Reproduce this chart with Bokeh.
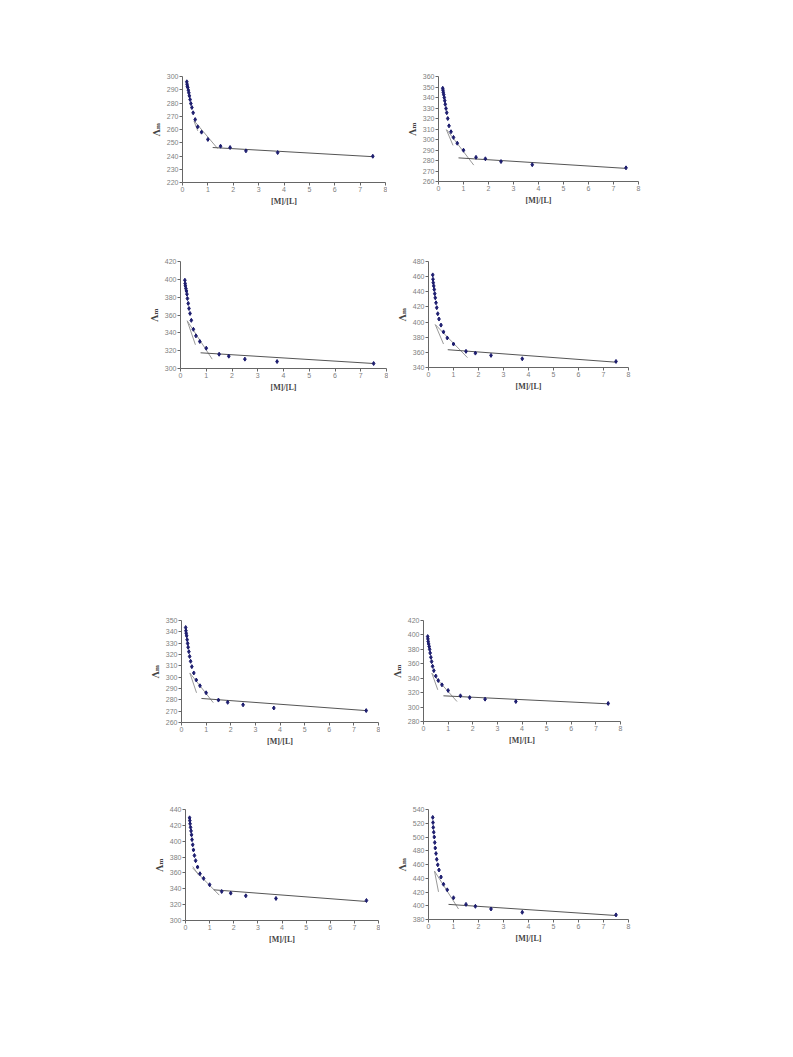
from bokeh.plotting import figure
from bokeh.layouts import row, column, Spacer
from bokeh.models import FixedTicker, Range1d
from bokeh.embed import file_html
from bokeh.resources import INLINE

# [M]/[L] mole ratio (shared by all panels)
x_ratio = [0.17, 0.18, 0.19, 0.21, 0.23, 0.25, 0.27, 0.30, 0.33, 0.37, 0.42,
           0.50, 0.60, 0.75, 1.00, 1.50, 1.875, 2.50, 3.75, 7.50]

# molar conductance values per panel
lam_1 = [296, 294.2, 292.7, 291.7, 289.7, 287.7, 285.4, 282.6, 279.6, 276.6, 272.6,
         267.5, 262, 258, 252.5, 247.4, 246.4, 243.9, 242.6, 239.8]
lam_2 = [348.8, 347, 345, 342.7, 340, 337, 333.5, 329.5, 325.5, 320, 313,
         307.4, 302, 296.5, 289.8, 283, 281.6, 279, 276, 273]
lam_3 = [399, 395.3, 392.7, 389.7, 387, 383.4, 378.5, 373, 367.3, 361.7, 354,
         344, 336.6, 330.3, 322.8, 316, 313.8, 310.5, 307.8, 305.6]
lam_4 = [462.3, 456.5, 452, 447.7, 443, 437.5, 432, 425.5, 419, 411, 404,
         396, 387, 379, 371, 361.3, 359, 356, 351.5, 348]
lam_5 = [343.8, 341, 338.8, 336.5, 333.1, 329.8, 326.4, 322.5, 318.3, 314, 309.3,
         303.7, 297.5, 292.4, 286.2, 279.8, 277.8, 275.6, 272.8, 270.5]
lam_6 = [397.7, 394.5, 391, 387.5, 384, 380, 375, 369, 363, 356.5, 350.5,
         343, 336.8, 330.8, 323, 315.6, 313.2, 311, 307.7, 305]
lam_7 = [429.5, 426, 422, 417.5, 413, 408, 402, 395.5, 389, 382, 375.5,
         367.4, 359, 353.1, 345.1, 336.6, 334.5, 331.1, 327.8, 325.2]
lam_8 = [528.5, 521, 514, 507, 500, 492, 484, 476, 467.5, 459.5, 452,
         441.8, 431.3, 423.1, 411.6, 402, 399.2, 395.3, 390.5, 386.7]

# tangent (fit) lines: steep, middle, flat -- x pairs and y pairs
fit_x_1 = [[0.45, 0.60], [0.47, 1.38], [1.19, 7.50]]
fit_y_1 = [[266.5, 259.0], [266.3, 245.7], [246.4, 239.5]]
fit_x_2 = [[0.31, 0.58], [0.34, 1.41], [0.80, 7.50]]
fit_y_2 = [[309.6, 294.4], [309.0, 275.6], [282.5, 272.5]]
fit_x_3 = [[0.26, 0.58], [0.26, 1.23], [0.78, 7.50]]
fit_y_3 = [[353.5, 326.6], [353.5, 310.5], [317.6, 305.6]]
fit_x_4 = [[0.27, 0.60], [0.27, 1.56], [0.77, 7.50]]
fit_y_4 = [[396.7, 371.0], [396.7, 353.0], [363.5, 347.0]]
fit_x_5 = [[0.34, 0.61], [0.34, 1.29], [0.81, 7.50]]
fit_y_5 = [[303.7, 286.2], [303.7, 277.5], [281.2, 270.5]]
fit_x_6 = [[0.34, 0.58], [0.34, 1.36], [0.81, 7.50]]
fit_y_6 = [[346.9, 323.9], [346.9, 307.7], [315.6, 304.5]]
fit_x_7 = [[0.30, 0.55], [0.30, 1.40], [1.17, 7.50]]
fit_y_7 = [[368.0, 357.0], [366.0, 332.0], [338.7, 324.0]]
fit_x_8 = [[0.24, 0.40], [0.24, 1.20], [0.80, 7.50]]
fit_y_8 = [[450.4, 420.2], [450.4, 395.3], [402.0, 385.8]]

# y-axis ranges (low, high, step)
yax_1 = (220, 300, 10)
yax_2 = (260, 360, 10)
yax_3 = (300, 420, 20)
yax_4 = (340, 480, 20)
yax_5 = (260, 350, 10)
yax_6 = (280, 420, 20)
yax_7 = (300, 440, 20)
yax_8 = (380, 540, 20)
x_ticks = [0, 1, 2, 3, 4, 5, 6, 7, 8]

X_LABEL = "[M]/[L]"
Y_LABEL = "Λₘ"


def make(ys, fx, fy, yax, fw, fh, ml, mt, mr, mb):
    lo, hi, step = yax
    p = figure(width=ml + fw + mr, height=mt + fh + mb,
               x_range=Range1d(0, 8), y_range=Range1d(lo, hi),
               output_backend="svg", toolbar_location=None,
               min_border_left=ml, min_border_right=mr,
               min_border_top=mt, min_border_bottom=mb)
    p.outline_line_color = None
    p.xgrid.visible = False
    p.ygrid.visible = False
    p.background_fill_color = "white"
    p.border_fill_color = "white"
    p.xaxis.ticker = FixedTicker(ticks=x_ticks)
    p.yaxis.ticker = FixedTicker(ticks=list(range(lo, hi + 1, step)))
    for ax in (p.xaxis[0], p.yaxis[0]):
        ax.axis_line_color = "#666666"
        ax.major_tick_line_color = "#666666"
        ax.major_tick_out = 3
        ax.major_tick_in = 0
        ax.minor_tick_line_color = None
        ax.major_label_text_font = "Liberation Sans"
        ax.major_label_text_font_size = "7px"
        ax.major_label_text_color = "#808080"
        ax.major_label_standoff = 1
        ax.axis_label_text_font = "DejaVu Serif"
        ax.axis_label_text_font_style = "bold"
        ax.axis_label_text_color = "#444444"
        ax.axis_label_standoff = 2
    p.xaxis.axis_label = X_LABEL
    p.xaxis.axis_label_text_font = "Liberation Serif"
    p.xaxis.axis_label_text_font_size = "8px"
    p.yaxis.axis_label = Y_LABEL
    p.yaxis.axis_label_text_font_size = "9px"
    p.multi_line(fx, fy, line_color=["#999999", "#999999", "#555555"], line_width=1)
    p.scatter(x_ratio, ys, marker="diamond", size=4, color="#1c1c6e")
    return p


p1 = make(lam_1, fit_x_1, fit_y_1, yax_1, 203, 106, 40, 10, 2, 28)
p2 = make(lam_2, fit_x_2, fit_y_2, yax_2, 200, 107, 40, 8, 6, 28)
p3 = make(lam_3, fit_x_3, fit_y_3, yax_3, 206, 107, 40, 8, 2, 28)
p4 = make(lam_4, fit_x_4, fit_y_4, yax_4, 200, 106, 36, 8, 6, 28)
p5 = make(lam_5, fit_x_5, fit_y_5, yax_5, 197, 106, 40, 8, 2, 28)
p6 = make(lam_6, fit_x_6, fit_y_6, yax_6, 197, 101, 40, 12, 6, 28)
p7 = make(lam_7, fit_x_7, fit_y_7, yax_7, 193, 111, 40, 9, 2, 28)
p8 = make(lam_8, fit_x_8, fit_y_8, yax_8, 200, 111, 40, 8, 6, 28)

r1 = row(Spacer(width=142), p1, Spacer(width=11), p2)
r2 = row(Spacer(width=140), p3, Spacer(width=4), p4)
r3 = row(Spacer(width=141), p5, Spacer(width=3), p6)
r4 = row(Spacer(width=145), p7, Spacer(width=8), p8)

layout = column(Spacer(height=66), r1, Spacer(height=43), r2,
                Spacer(height=212), r3, Spacer(height=50), r4)

open("out.html", "w").write(file_html(layout, INLINE))
